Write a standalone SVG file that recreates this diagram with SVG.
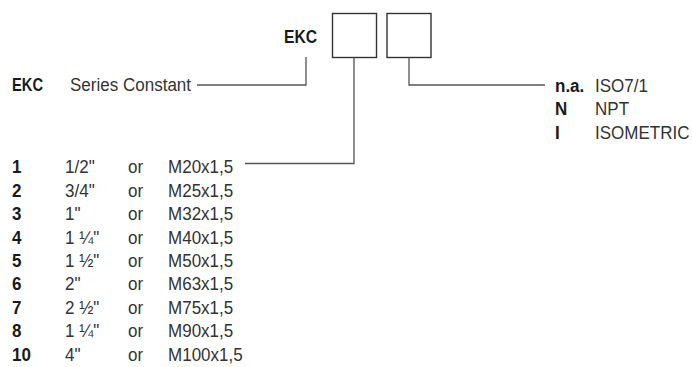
<svg xmlns="http://www.w3.org/2000/svg" width="692" height="367" viewBox="0 0 692 367">
<style>
text{font-family:"Liberation Sans",Arial,sans-serif;font-size:18.5px;fill:#333}
.b{font-weight:bold;fill:#1a1a1a}
.box{fill:#fff;stroke:#333;stroke-width:1.4}
.ln{fill:none;stroke:#555;stroke-width:1.3}
</style>
<g id="title" transform="scale(0.92,1)"><text class="b" x="308.7" y="43" textLength="35.9" lengthAdjust="spacingAndGlyphs">EKC</text></g>
<g id="box1"><rect class="box" x="332.5" y="13.5" width="44" height="44"/></g>
<g id="box2"><rect class="box" x="387" y="13.5" width="44" height="44"/></g>
<g id="connectors">
<path class="ln" d="M306,57 V85 H197"/>
<path class="ln" d="M354,57.5 V163.5 H245"/>
<path class="ln" d="M409,57.5 V85 H545"/>
</g>
<g id="series" transform="scale(0.92,1)">
<text class="b" x="13.04" y="91" textLength="33.7" lengthAdjust="spacingAndGlyphs">EKC</text>
<text x="76.09" y="91">Series Constant</text>
</g>
<g id="threads" transform="scale(0.92,1)">
<text class="b" x="603.26" y="92">n.a.</text><text x="646.74" y="92">ISO7/1</text>
<text class="b" x="603.26" y="115.5">N</text><text x="646.74" y="115.5">NPT</text>
<text class="b" x="603.26" y="139">I</text><text x="646.74" y="139">ISOMETRIC</text>
</g>
<g id="sizes" transform="scale(0.92,1)">
<text class="b" x="13.04" y="173.5">1</text><text x="70.65" y="173.5">1/2"</text><text x="139.13" y="173.5">or</text><text x="182.61" y="173.5">M20x1,5</text>
<text class="b" x="13.04" y="196.9">2</text><text x="70.65" y="196.9">3/4"</text><text x="139.13" y="196.9">or</text><text x="182.61" y="196.9">M25x1,5</text>
<text class="b" x="13.04" y="220.3">3</text><text x="70.65" y="220.3">1"</text><text x="139.13" y="220.3">or</text><text x="182.61" y="220.3">M32x1,5</text>
<text class="b" x="13.04" y="243.7">4</text><text x="70.65" y="243.7">1 ¼"</text><text x="139.13" y="243.7">or</text><text x="182.61" y="243.7">M40x1,5</text>
<text class="b" x="13.04" y="267.1">5</text><text x="70.65" y="267.1">1 ½"</text><text x="139.13" y="267.1">or</text><text x="182.61" y="267.1">M50x1,5</text>
<text class="b" x="13.04" y="290.5">6</text><text x="70.65" y="290.5">2"</text><text x="139.13" y="290.5">or</text><text x="182.61" y="290.5">M63x1,5</text>
<text class="b" x="13.04" y="313.9">7</text><text x="70.65" y="313.9">2 ½"</text><text x="139.13" y="313.9">or</text><text x="182.61" y="313.9">M75x1,5</text>
<text class="b" x="13.04" y="337.3">8</text><text x="70.65" y="337.3">1 ¼"</text><text x="139.13" y="337.3">or</text><text x="182.61" y="337.3">M90x1,5</text>
<text class="b" x="13.04" y="360.7">10</text><text x="70.65" y="360.7">4"</text><text x="139.13" y="360.7">or</text><text x="182.61" y="360.7">M100x1,5</text>
</g>
</svg>
